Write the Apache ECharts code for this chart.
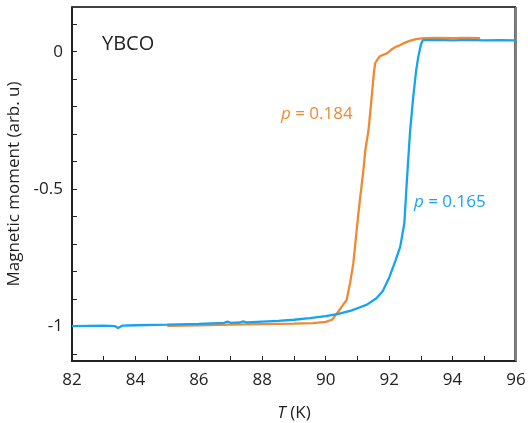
<!DOCTYPE html>
<html><head><meta charset="utf-8">
<script src="https://cdn.jsdelivr.net/npm/echarts@6/dist/echarts.min.js"></script>
<style>html,body{margin:0;padding:0;background:#fff}#c{width:528px;height:423px}</style>
</head><body><div id="c"></div>
<script>
const tBlue = [82.0,82.5,83.0,83.35,83.45,83.6,84.0,85.0,86.0,86.8,86.9,87.0,87.3,87.4,87.5,88.0,88.5,89.0,89.5,90.0,90.4,90.8,91.0,91.3,91.6,91.8,92.0,92.2,92.35,92.48,92.56,92.66,92.76,92.85,92.92,93.0,93.06,93.5,94.0,94.5,95.0,95.5,96.0];
const mBlue = [-0.998,-0.997,-0.996,-0.998,-1.005,-0.996,-0.995,-0.993,-0.99,-0.986,-0.982,-0.986,-0.985,-0.981,-0.985,-0.982,-0.979,-0.975,-0.969,-0.962,-0.954,-0.942,-0.933,-0.92,-0.897,-0.87,-0.822,-0.76,-0.709,-0.623,-0.467,-0.29,-0.164,-0.07,-0.018,0.025,0.042,0.043,0.041,0.043,0.041,0.042,0.041];
const tOrange = [85.0,86.0,87.0,88.0,89.0,89.6,90.0,90.2,90.4,90.55,90.66,90.77,90.87,90.95,91.02,91.09,91.18,91.25,91.35,91.45,91.52,91.56,91.65,91.72,91.8,91.93,92.0,92.09,92.2,92.35,92.5,92.67,92.85,93.09,93.5,94.0,94.5,94.87];
const mOrange = [-0.997,-0.995,-0.993,-0.991,-0.989,-0.987,-0.983,-0.975,-0.945,-0.92,-0.903,-0.84,-0.77,-0.68,-0.6,-0.527,-0.44,-0.357,-0.285,-0.164,-0.075,-0.042,-0.025,-0.016,-0.012,-0.006,0.0,0.009,0.017,0.024,0.033,0.04,0.046,0.049,0.05,0.049,0.05,0.049];
const xTicks = [82,83,84,85,86,87,88,89,90,91,92,93,94,95,96];
const xLabels = [82,84,86,88,90,92,94,96];
const yTicks = [-1.1,-1.0,-0.9,-0.8,-0.7,-0.6,-0.5,-0.4,-0.3,-0.2,-0.1,0,0.1];
const yLabels = [-1,-0.5,0];
const xMin = 82, xMax = 96, yMin = -1.125, yMax = 0.1625;

const FONT = 'Open Sans';
const ORANGE = '#EF8A33';
const BLUE = '#17A3F3';
const TXT = '#222';
const chart = echarts.init(document.getElementById('c'), null, {renderer:'canvas'});
chart.setOption({
  animation:false,
  backgroundColor:'#fff',
  textStyle:{fontFamily:FONT},
  grid:{left:72,right:12,top:7,bottom:62,containLabel:false,outerBoundsMode:'none'},
  xAxis:{type:'value',min:xMin,max:xMax,
    name:'{i|T} (K)',nameLocation:'middle',nameGap:44,
    nameTextStyle:{fontFamily:FONT,fontSize:17,color:TXT,rich:{i:{fontStyle:'italic',fontFamily:FONT,fontSize:17,color:TXT}}},
    axisLine:{show:true,onZero:false,lineStyle:{color:'#222',width:2}},
    axisTick:{show:true,inside:true,length:5,customValues:xTicks,lineStyle:{color:'#222',width:1}},
    axisLabel:{customValues:xLabels,fontFamily:FONT,fontSize:17,color:TXT,margin:11},
    splitLine:{show:false}},
  yAxis:{type:'value',min:yMin,max:yMax,
    name:'Magnetic moment (arb. u)',nameLocation:'middle',nameGap:45,
    nameTextStyle:{fontFamily:FONT,fontSize:17,color:TXT},
    axisLine:{show:true,onZero:false,lineStyle:{color:'#222',width:2}},
    axisTick:{show:true,inside:true,length:5,customValues:yTicks,lineStyle:{color:'#222',width:1}},
    axisLabel:{customValues:yLabels,fontFamily:FONT,fontSize:17,color:TXT,margin:9,
      formatter:v=>String(Math.round(v*10)/10)},
    splitLine:{show:false}},
  series:[
    {type:'line',name:'frameTop',data:[[xMin,yMax],[xMax,yMax]],showSymbol:false,silent:true,clip:false,
     lineStyle:{color:'#333',width:1.5},z:1},
    {type:'line',name:'frameRight',data:[[xMax,yMax],[xMax,yMin]],showSymbol:false,silent:true,clip:false,
     lineStyle:{color:'#808080',width:2},z:1},
    {type:'line',name:'p = 0.184',data:tOrange.map((t,i)=>[t,mOrange[i]]),showSymbol:false,
     lineStyle:{color:ORANGE,width:2.3},itemStyle:{color:ORANGE},z:2},
    {type:'line',name:'p = 0.165',data:tBlue.map((t,i)=>[t,mBlue[i]]),showSymbol:false,
     lineStyle:{color:BLUE,width:2.3},itemStyle:{color:BLUE},z:3}
  ],
  graphic:[
    {type:'polyline',shape:{points:[[72,7],[515,7],[515,361]]},style:{stroke:'#6e6e6e',lineWidth:2,fill:null}},
    {type:'text',left:102,top:34,style:{text:'YBCO',fontFamily:FONT,fontSize:20,fill:TXT}},
    {type:'text',left:281,top:106,style:{text:'{i|p} = 0.184',fontFamily:FONT,fontSize:17,fill:ORANGE,
      rich:{i:{fontStyle:'italic',fontFamily:FONT,fontSize:17,fill:ORANGE,color:ORANGE}}}},
    {type:'text',left:414,top:194,style:{text:'{i|p} = 0.165',fontFamily:FONT,fontSize:17,fill:BLUE,
      rich:{i:{fontStyle:'italic',fontFamily:FONT,fontSize:17,fill:BLUE,color:BLUE}}}}
  ]
});
</script></body></html>
